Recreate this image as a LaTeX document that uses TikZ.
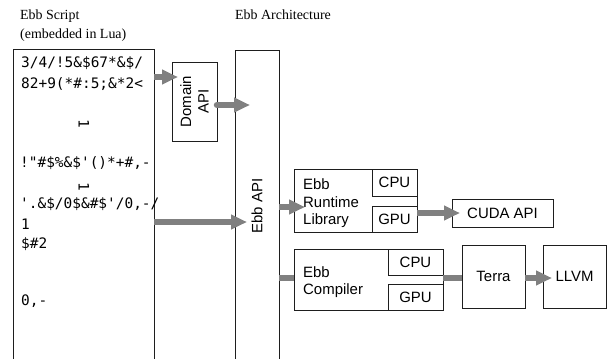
\documentclass[tikz,border=0pt]{standalone}
\usepackage{fontspec}
\setmainfont{Liberation Serif}
\setsansfont{Liberation Sans}
\newfontfamily\codefont{DejaVu Sans Mono}
\usetikzlibrary{arrows.meta}
\definecolor{arrgray}{RGB}{128,128,128}
\definecolor{boxline}{RGB}{30,30,30}
\begin{document}
\begin{tikzpicture}[x=1bp,y=-1bp,
  box/.style={draw=boxline, line width=0.9bp, inner sep=0pt, outer sep=0pt},
  lbl/.style={font=\sffamily\fontsize{15}{17.5}\selectfont},
  code/.style={font=\codefont\fontsize{14.5}{17}\selectfont, anchor=base west, inner sep=0pt},
  ttl/.style={font=\fontsize{14}{16}\selectfont, anchor=base west, inner sep=0pt},
  arr/.style={draw=arrgray, line width=6.5bp, -{Triangle[length=16bp,width=14bp]}},
  link/.style={draw=arrgray, line width=6.5bp}]
\useasboundingbox (0,0) rectangle (608,358);
\clip (0,0) rectangle (608,358);
\fill[white] (0,0) rectangle (608,358);

% titles
\node[ttl] (t1) at (20,19) {Ebb Script};
\node[ttl] (t2) at (20,38) {(embedded in Lua)};
\node[ttl] (t3) at (235,19) {Ebb Architecture};

% main boxes
\node[box, minimum width=141bp, minimum height=351bp] (script) at (83.5,224.5) {};
\node[box, minimum width=45bp, minimum height=79bp] (domain) at (194.5,101.5) {};
\node[lbl, rotate=90, align=center, inner sep=0pt] (domainlbl) at (194.5,101.5) {Domain\\API};
\node[box, minimum width=44bp, minimum height=350bp] (ebbapi) at (257,225) {};
\node[lbl, rotate=90, inner sep=0pt] (ebbapilbl) at (257,206) {Ebb API};

% runtime
\node[box, minimum width=123bp, minimum height=63bp] (runtime) at (355.5,200.5) {};
\node[lbl, align=left, anchor=west, inner sep=0pt] (runtimelbl) at (303,203.5) {Ebb\\Runtime\\Library};
\node[box, lbl, minimum width=45bp, minimum height=27bp] (rcpu) at (394.5,182.5) {CPU};
\node[box, lbl, minimum width=45bp, minimum height=26bp] (rgpu) at (394.5,219) {GPU};
\node[box, lbl, minimum width=101bp, minimum height=28bp] (cuda) at (502.5,213) {CUDA API};

% compiler
\node[box, minimum width=149bp, minimum height=61bp] (compiler) at (368.5,279.5) {};
\node[lbl, align=left, anchor=west, inner sep=0pt] (compilerlbl) at (303,282) {Ebb\\Compiler};
\node[box, lbl, minimum width=55bp, minimum height=26bp] (ccpu) at (415.5,262) {CPU};
\node[box, lbl, minimum width=55bp, minimum height=26bp] (cgpu) at (415.5,297) {GPU};
\node[box, lbl, minimum width=63bp, minimum height=63bp] (terra) at (493.5,276.5) {Terra};
\node[box, lbl, minimum width=63bp, minimum height=63bp] (llvm) at (574.5,276.5) {LLVM};

% code text
\node[code] (c1) at (21,67) {3/4/!5\&\$67*\&\$/};
\node[code] (c2) at (21,88) {82+9(*\#:5;\&*2<};
\node[code, anchor=center, rotate=-90] (c3) at (84,124) {1};
\node[code] (c4) at (20,167) {!"\#\$\%\&\$'()*+\#,-};
\node[code, anchor=center, rotate=-90] (c5) at (84,187) {1};
\node[code] (c6) at (20,208) {'.\&\$/0\$\&\#\$'/0,-/};
\node[code] (c7) at (21,229) {1};
\node[code] (c8) at (21,248) {\$\#2};
\node[code] (c9) at (21,305) {0,-};

% connectors
\coordinate (y1) at (0,77);
\coordinate (y2) at (0,105);
\coordinate (y3) at (0,222);
\coordinate (y4) at (0,207);
\coordinate (y5) at (0,213);
\coordinate (y6) at (0,278);
\draw[arr, shorten >=-6bp] (script.east |- y1) -- (domain.west |- y1);
\draw[arr, line cap=round, shorten >=-15bp] (domain.east |- y2) -- (ebbapi.west |- y2);
\draw[arr, shorten >=-12bp] (script.east |- y3) -- (ebbapi.west |- y3);
\draw[arr, shorten >=-11bp] (ebbapi.east |- y4) -- (runtime.west |- y4);
\draw[arr, shorten >=-8bp] (rgpu.east |- y5) -- (cuda.west |- y5);
\draw[link] (ebbapi.east |- y6) -- (compiler.west |- y6);
\draw[link] (compiler.east |- y6) -- (terra.west |- y6);
\draw[arr, shorten >=-9bp] (terra.east |- y6) -- (llvm.west |- y6);
\end{tikzpicture}
\end{document}
